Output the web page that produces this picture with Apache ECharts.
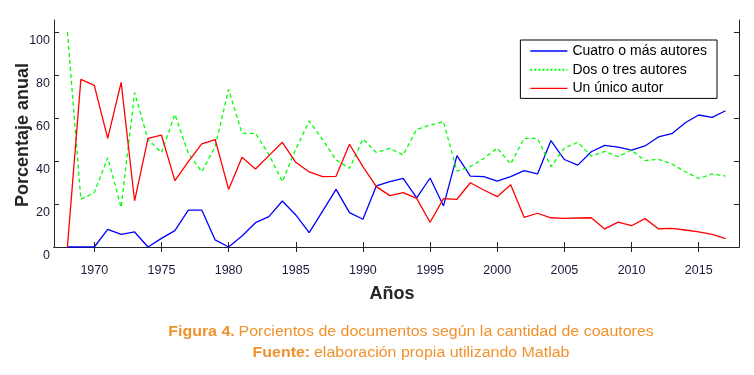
<!DOCTYPE html>
<html>
<head>
<meta charset="utf-8">
<script src="https://cdn.jsdelivr.net/npm/echarts@6/dist/echarts.min.js"></script>
<style>html,body{margin:0;padding:0;background:#fff}#c{width:754px;height:375px}</style>
</head>
<body>
<div id="c"></div>
<script>
var years = [];
for (var y = 1968; y <= 2017; y++) years.push(y);

var cuatroOMas = [0,0,0,8.2,5.9,7,0,4,7.6,17.2,17.2,3.3,0,5.1,11.3,14.1,21.4,14.9,6.7,16.7,26.8,16,12.9,28.4,30.4,31.9,22.9,32.1,19.1,42.5,33,32.7,30.7,32.7,35.5,34,49.5,40.7,38.1,44.3,47.3,46.5,45.1,47,51.2,52.7,57.8,61.4,60.3,63.4];
var dosOTres = [100,22.2,25.3,41.5,18.4,71.8,50,43.9,61.7,43.6,35,46.7,73.3,52.9,52.9,43,30.4,45.5,58.6,50,40.5,36.6,50.2,44,45.9,42.8,54.7,56.7,58.3,35.3,37.4,41.2,46,38.6,50.5,50.5,37.4,46,48.7,42.3,44.5,42,45.1,40.2,40.8,38.6,35,31.9,34,33];
var unUnico = [0,78,75.2,50.5,76.6,21.5,50.5,52,30.9,39.7,48,50,26.8,41.7,36.3,42.5,48.7,39.4,34.9,32.7,32.9,47.8,37.4,28.1,23.9,25.3,22.6,11.5,22.5,22.2,29.9,26.5,23.4,29,13.8,15.7,13.6,13.3,13.5,13.6,8.4,11.6,9.9,13.2,8.5,8.7,7.9,7,5.9,3.9];

var xTicks = [1970,1975,1980,1985,1990,1995,2000,2005,2010,2015];
var yTicks = [0,20,40,60,80,100];

function pairs(arr){ return years.map(function(yr,i){ return [yr, arr[i]]; }); }

var axisColor = '#262626';
var labelColor = '#1a1a3a';
var orange = '#f0922b';
var chart = echarts.init(document.getElementById('c'));
chart.setOption({
  animation: false,
  grid: {left: 54, right: 15, top: 20, bottom: 128},
  xAxis: [{
    type: 'value', min: 1967, max: 2018, position: 'bottom',
    name: 'Años', nameLocation: 'middle', nameGap: 38,
    nameTextStyle: {fontFamily: 'Liberation Sans', fontSize: 18, fontWeight: 'bold', color: axisColor, padding: [0, 9, 0, 0]},
    axisLine: {lineStyle: {color: axisColor, width: 1}},
    axisTick: {inside: true, length: 5, customValues: xTicks, lineStyle: {color: axisColor}},
    axisLabel: {customValues: xTicks, margin: 17, fontFamily: 'Liberation Sans', fontSize: 12.5, color: labelColor,
      formatter: function(v){ return String(v); }},
    splitLine: {show: false}
  }, {
    type: 'value', min: 1967, max: 2018, position: 'top',
    axisLine: {lineStyle: {color: axisColor, width: 1}},
    axisTick: {inside: true, length: 5, customValues: xTicks, lineStyle: {color: axisColor}},
    axisLabel: {show: false},
    splitLine: {show: false}
  }],
  yAxis: [{
    type: 'value', min: 0, max: 105.6, position: 'left',
    axisLine: {show: true, lineStyle: {color: axisColor, width: 1}},
    axisTick: {show: true, inside: true, length: 5, customValues: yTicks, lineStyle: {color: axisColor}},
    axisLabel: {customValues: yTicks, margin: 4, verticalAlign: 'top', lineHeight: 17,
      fontFamily: 'Liberation Sans', fontSize: 12.5, color: labelColor},
    splitLine: {show: false}
  }, {
    type: 'value', min: 0, max: 105.6, position: 'right',
    axisLine: {show: true, lineStyle: {color: axisColor, width: 1}},
    axisTick: {show: true, inside: true, length: 5, customValues: yTicks, lineStyle: {color: axisColor}},
    axisLabel: {show: false},
    splitLine: {show: false}
  }],
  legend: {
    orient: 'vertical', right: 37, top: 40,
    padding: [4, 10, 3, 9], itemGap: 4.7, itemWidth: 37, itemHeight: 14,
    borderColor: '#000', borderWidth: 1, backgroundColor: '#fff',
    itemStyle: {opacity: 0},
    textStyle: {fontFamily: 'Liberation Sans', fontSize: 14, color: '#000'},
    data: [
      {name: 'Cuatro o más autores', lineStyle: {width: 1.3}},
      {name: 'Dos o tres autores', lineStyle: {type: [2, 2], width: 2}},
      {name: 'Un único autor', lineStyle: {width: 1.3}}
    ]
  },
  series: [{
    name: 'Cuatro o más autores', type: 'line', symbol: 'none', data: pairs(cuatroOMas),
    lineStyle: {color: '#0000ff', width: 1.3}, itemStyle: {color: '#0000ff'}
  }, {
    name: 'Dos o tres autores', type: 'line', symbol: 'none', data: pairs(dosOTres),
    lineStyle: {color: '#00ff00', width: 1.3, type: [4, 3]}, itemStyle: {color: '#00ff00'}
  }, {
    name: 'Un único autor', type: 'line', symbol: 'none', data: pairs(unUnico),
    lineStyle: {color: '#ff0000', width: 1.3}, itemStyle: {color: '#ff0000'}
  }],
  graphic: [{
    type: 'text', x: 23, y: 135, rotation: Math.PI / 2,
    style: {
      text: 'Porcentaje anual', textAlign: 'center', textVerticalAlign: 'middle',
      fontFamily: 'Liberation Sans', fontSize: 18, fontWeight: 'bold', fill: axisColor
    }
  }, {
    type: 'text', x: 411, y: 332, scaleX: 1.14,
    style: {
      text: '{b|Figura 4.} {n|Porcientos de documentos según la cantidad de coautores}',
      textAlign: 'center', textVerticalAlign: 'middle',
      rich: {
        b: {fontFamily: 'Liberation Sans', fontSize: 14, fontWeight: 'bold', fill: orange},
        n: {fontFamily: 'Liberation Sans', fontSize: 14, fill: orange}
      }
    }
  }, {
    type: 'text', x: 411, y: 353, scaleX: 1.14,
    style: {
      text: '{b|Fuente:} {n|elaboración propia utilizando Matlab}',
      textAlign: 'center', textVerticalAlign: 'middle',
      rich: {
        b: {fontFamily: 'Liberation Sans', fontSize: 14, fontWeight: 'bold', fill: orange},
        n: {fontFamily: 'Liberation Sans', fontSize: 14, fill: orange}
      }
    }
  }]
});
</script>
</body>
</html>
